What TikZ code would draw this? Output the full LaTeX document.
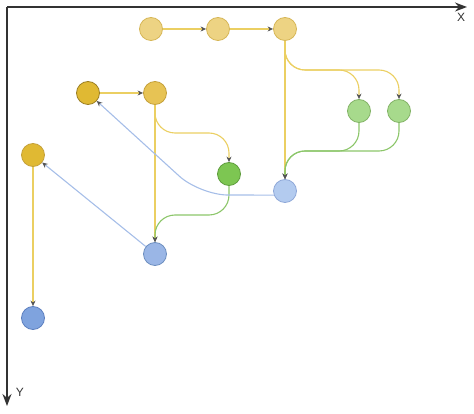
\documentclass[tikz,border=0pt]{standalone}
\usepackage{fontspec}
\setmainfont{Liberation Sans}
\usetikzlibrary{arrows.meta}

\definecolor{yelpale}{HTML}{EDD383}
\definecolor{yelpaled}{HTML}{D6B656}
\definecolor{yelmid}{HTML}{E7C354}
\definecolor{yelmidd}{HTML}{C4A03A}
\definecolor{yeldeep}{HTML}{E0B933}
\definecolor{yeldeepd}{HTML}{9C7F22}
\definecolor{grnmid}{HTML}{7DC652}
\definecolor{grnmidd}{HTML}{5E9C3C}
\definecolor{grnpale}{HTML}{A7DA8C}
\definecolor{grnpaled}{HTML}{82B366}
\definecolor{blupale}{HTML}{B3CBEF}
\definecolor{blupaled}{HTML}{8FA8D8}
\definecolor{blumid}{HTML}{9AB6E6}
\definecolor{blumidd}{HTML}{6C8EBF}
\definecolor{bludeep}{HTML}{7FA3DE}
\definecolor{bludeepd}{HTML}{5C7FBF}
\definecolor{yedge}{HTML}{EBCF62}
\definecolor{gedge}{HTML}{8CC66A}
\definecolor{bedge}{HTML}{A6BEE8}
\definecolor{tipgray}{HTML}{555555}

\begin{document}
\begin{tikzpicture}[x=1pt,y=-1pt,
    dot/.style={circle, minimum size=23pt, inner sep=0pt, line width=0.8pt},
    link/.style={line width=1.1pt, -{Stealth[length=5.5pt,width=5pt,color=tipgray]}},
    yline/.style={link, draw=yedge},
    gline/.style={link, draw=gedge},
    bline/.style={link, draw=bedge},
    axis/.style={line width=1.5pt, draw=black!80, -{Stealth[length=12pt,width=9pt]}}]

    \useasboundingbox (0,0) rectangle (474,414);

    \coordinate (O) at (7,7);
    \coordinate (Xend) at (467,7);
    \coordinate (Yend) at (7,406);

    \draw [axis] (O) -- (Xend);
    \draw [axis] (O) -- (Yend);
    \node [font=\fontsize{12}{14}\selectfont, text=black!80] (Xlab) at (461,17) {X};
    \node [font=\fontsize{12}{14}\selectfont, text=black!80] (Ylab) at (20,392) {Y};

    \node [dot, fill=yelpale, draw=yelpaled] (T1) at (151,29) {};
    \node [dot, fill=yelpale, draw=yelpaled] (T2) at (218,29) {};
    \node [dot, fill=yelpale, draw=yelpaled] (T3) at (285,29) {};
    \node [dot, fill=yeldeep, draw=yeldeepd] (A1) at (88,93) {};
    \node [dot, fill=yelmid, draw=yelmidd] (A2) at (155,93) {};
    \node [dot, fill=yeldeep, draw=yelmidd] (B1) at (33,155) {};
    \node [dot, fill=grnpale, draw=grnpaled] (G2) at (359,111) {};
    \node [dot, fill=grnpale, draw=grnpaled] (G3) at (399,111) {};
    \node [dot, fill=grnmid, draw=grnmidd] (G1) at (229,174) {};
    \node [dot, fill=blupale, draw=blupaled] (C1) at (285,191) {};
    \node [dot, fill=blumid, draw=blumidd] (C2) at (155,254) {};
    \node [dot, fill=bludeep, draw=bludeepd] (D1) at (33,318) {};

    \draw [yline] (T1) -- (T2);
    \draw [yline] (T2) -- (T3);
    \draw [yline] (T3) -- (C1);
    \draw [yline, rounded corners=20pt] (T3.south) -- (285,70) -- (359,70) -- (G2.north);
    \draw [yline, rounded corners=20pt] (T3.south) -- (285,70) -- (399,70) -- (G3.north);
    \draw [gline, rounded corners=20pt] (G2.south) -- (359,151) -- (285,151) -- (C1.north);
    \draw [gline, rounded corners=20pt] (G3.south) -- (399,151) -- (285,151) -- (C1.north);

    \draw [yline] (A1) -- (A2);
    \draw [yline] (A2) -- (C2);
    \draw [yline, rounded corners=20pt] (A2.south) -- (155,133) -- (229,133) -- (G1.north);
    \draw [gline, rounded corners=20pt] (G1.south) -- (229,215) -- (155,215) -- (C2.north);

    \draw [bline, rounded corners=28pt] (C1.200) -- (200,195) -- (A1);
    \draw [bline] (C2) -- (B1);
    \draw [yline] (B1) -- (D1);
\end{tikzpicture}
\end{document}
